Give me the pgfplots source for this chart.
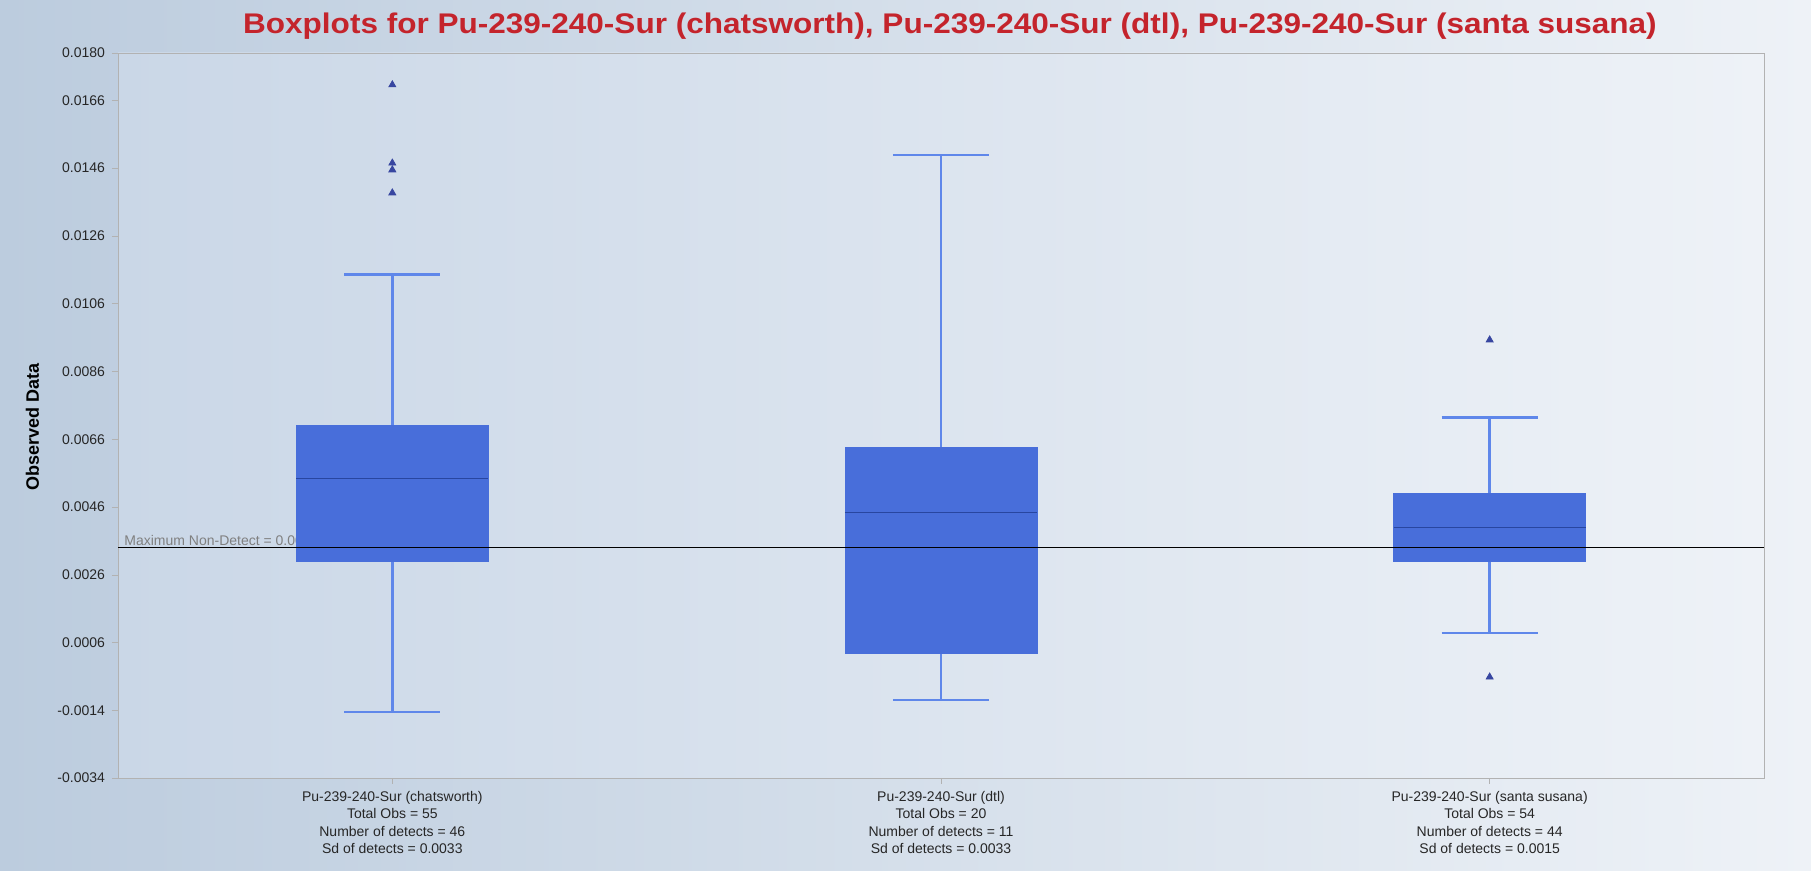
\documentclass[border=0pt]{standalone}
\usepackage{graphicx}
\usepackage{pgfplots}
\pgfplotsset{compat=1.18}
\usepgfplotslibrary{statistics}
\usepackage{fontspec}
\setmainfont{Liberation Sans}
\definecolor{bgL}{RGB}{188,204,222}
\definecolor{bgR}{RGB}{238,242,247}
\definecolor{plotL}{RGB}{202,215,231}
\definecolor{plotR}{RGB}{238,242,247}
\definecolor{boxblue}{RGB}{72,110,218}
\definecolor{whiskblue}{RGB}{95,135,234}
\definecolor{medblue}{RGB}{40,70,160}
\definecolor{outnavy}{RGB}{55,70,160}
\definecolor{titlered}{RGB}{196,36,44}
\begin{document}
\begin{tikzpicture}
\shade[left color=bgL, right color=bgR] (0,0) rectangle (905.5pt,435.5pt);
\node[font=\bfseries\fontsize{14.2}{16}\selectfont, text=titlered] at (475pt,422.5pt)
  {\scalebox{1.11}[1]{Boxplots for Pu-239-240-Sur (chatsworth), Pu-239-240-Sur (dtl), Pu-239-240-Sur (santa susana)}};
\begin{axis}[
  at={(59pt,46.5pt)}, anchor=south west,
  width=823pt, height=362.5pt, scale only axis,
  xmin=-0.5, xmax=2.5, ymin=-0.0034, ymax=0.0180,
  axis background/.style={left color=plotL, right color=plotR},
  axis line style={draw=gray!60},
  tick align=outside, major tick length=3pt,
  tick style={draw=gray!60},
  ytick pos=left, xtick pos=bottom,
  scaled y ticks=false,
  ytick={-0.0034,-0.0014,0.0006,0.0026,0.0046,0.0066,0.0086,0.0106,0.0126,0.0146,0.0166,0.0180},
  yticklabels={-0.0034,-0.0014,0.0006,0.0026,0.0046,0.0066,0.0086,0.0106,0.0126,0.0146,0.0166,0.0180},
  yticklabel style={font=\fontsize{7}{8}\selectfont, text=black!85},
  xtick={0,1,2},
  xticklabels={
    {Pu-239-240-Sur (chatsworth)\\Total Obs = 55\\Number of detects = 46\\Sd of detects = 0.0033},
    {Pu-239-240-Sur (dtl)\\Total Obs = 20\\Number of detects = 11\\Sd of detects = 0.0033},
    {Pu-239-240-Sur (santa susana)\\Total Obs = 54\\Number of detects = 44\\Sd of detects = 0.0015}},
  xticklabel style={align=center, font=\fontsize{7}{8.75}\selectfont, text=black!85},
  ylabel={Observed Data},
  ylabel style={at={(axis description cs:-0.052,0.484)}, anchor=center, font=\bfseries\fontsize{9}{10}\selectfont},
  clip=false,
  boxplot/draw direction=y,
  boxplot/box extend=0.35,
  boxplot/whisker extend=0.175,
  boxplot/every box/.style={fill=boxblue, draw=boxblue},
  boxplot/every whisker/.style={draw=whiskblue, line width=1.4pt},
  boxplot/every median/.style={draw=medblue, line width=0.4pt},
]
\addplot[draw=none] coordinates {(-0.5,0.0034)}
  node[pos=0, anchor=south west, inner sep=1pt, xshift=2pt, font=\fontsize{7}{8}\selectfont, text=gray] {Maximum Non-Detect = 0.0034};
\addplot[boxplot prepared={draw position=0, lower whisker=-0.00145, lower quartile=0.00298, median=0.00543, upper quartile=0.00702, upper whisker=0.01145},
  mark=triangle*, mark size=2pt, mark options={draw=outnavy, fill=outnavy}]
  coordinates {(0,0.01706) (0,0.01475) (0,0.01455) (0,0.01387)};
\addplot[boxplot prepared={draw position=1, lower whisker=-0.00110, lower quartile=0.00029, median=0.00445, upper quartile=0.00637, upper whisker=0.01499}]
  coordinates {};
\addplot[boxplot prepared={draw position=2, lower whisker=0.00088, lower quartile=0.00300, median=0.00401, upper quartile=0.00501, upper whisker=0.00723},
  mark=triangle*, mark size=2pt, mark options={draw=outnavy, fill=outnavy}]
  coordinates {(2,0.00953) (2,-0.00042)};
\addplot[black, line width=0.8pt] coordinates {(-0.5,0.0034) (2.5,0.0034)};
\end{axis}
\end{tikzpicture}
\end{document}
